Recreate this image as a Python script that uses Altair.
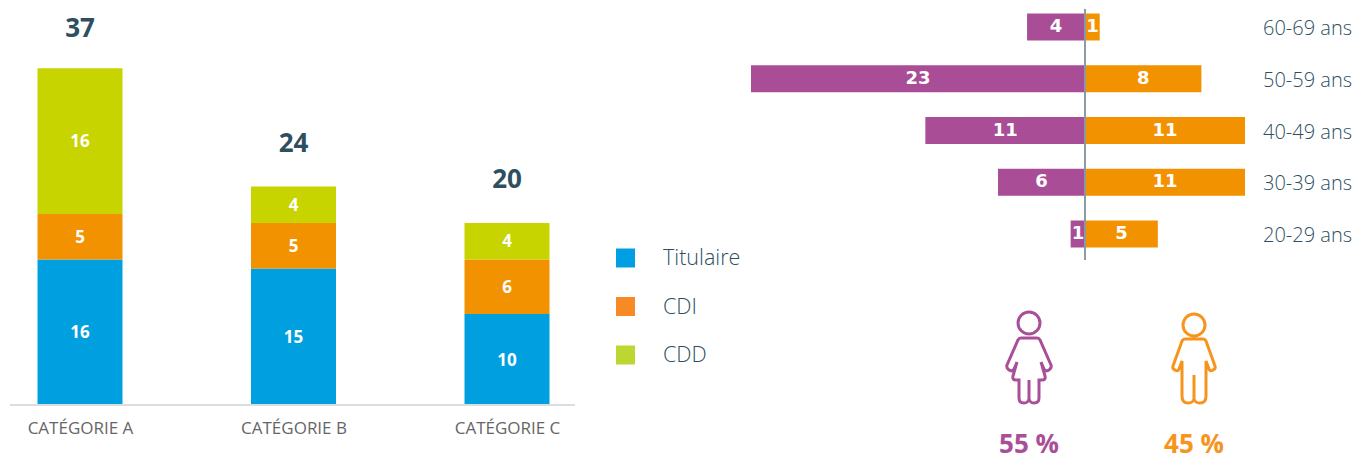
import altair as alt
import pandas as pd

categories = ["CATÉGORIE A", "CATÉGORIE B", "CATÉGORIE C"]
contracts = ["Titulaire", "CDI", "CDD"]
titulaire = [16, 15, 10]
cdi = [5, 5, 6]
cdd = [16, 4, 4]
totals = [37, 24, 20]
bar_colors = ["#009fdf", "#f39200", "#c8d400"]
legend_colors = ["#009fe3", "#f78a24", "#bdd632"]

ages = ["60-69 ans", "50-59 ans", "40-49 ans", "30-39 ans", "20-29 ans"]
women = [4, 23, 11, 6, 1]
men = [1, 8, 11, 11, 5]
genders = ["Femmes", "Hommes"]
gender_share = ["55 %", "45 %"]
gender_colors = ["#a94f97", "#f7941d"]

FEMALE = ("M-11,-35A11,11 0 1 0 11,-35A11,11 0 1 0 -11,-35Z"
          "M-8,-20L8,-20Q10,-20 11,-18L22,7Q23,10 20,12Q17,14 15,11L12,4L16,18Q17,22 13,22"
          "L10,22L10,40Q10,45 5,45Q1,45 0,41Q-1,45 -5,45Q-10,45 -10,40L-10,22L-13,22"
          "Q-17,22 -16,18L-12,4L-15,11Q-17,14 -20,12Q-23,10 -22,7L-11,-18Q-10,-20 -8,-20Z"
          "M0,22L0,41")
MALE = ("M-11,-33A11,11 0 1 0 11,-33A11,11 0 1 0 -11,-33Z"
        "M-9,-19L9,-19Q11,-19 12,-17L21,8Q22,11 19,12Q16,14 15,11L12,3L12,38"
        "Q12,45 6,45Q1,45 0,41Q-1,45 -6,45Q-12,45 -12,38L-12,3L-15,11Q-16,14 -19,12"
        "Q-22,11 -21,8L-12,-17Q-11,-19 -9,-19Z"
        "M0,17L0,41")

FONT = "Open Sans"
DARK = "#2e4f5f"

# ---------- left: stacked bars
rows = []
for i, c in enumerate(categories):
    base = 0
    for name, vals in zip(contracts, [titulaire, cdi, cdd]):
        v = vals[i]
        rows.append(dict(cat=c, contract=name, y0=base, y1=base + v, mid=base + v / 2, v=v))
        base += v
stack = pd.DataFrame(rows)
tot = pd.DataFrame(dict(cat=categories, total=totals))

cat_scale = alt.Scale(type="point", domain=categories, range=[72, 499], padding=0)
xs = alt.X("cat:N", sort=categories, scale=cat_scale,
           axis=alt.Axis(title=None, domain=False, ticks=False, labelAngle=0, labelFont=FONT,
                         labelFontSize=17, labelColor="#666666", labelPadding=15, grid=False))
ys = alt.Scale(domain=[0, 43.63], range=[397, 0])

bars = alt.Chart(stack).mark_bar(size=85).encode(
    x=xs,
    y=alt.Y("y0:Q", scale=ys, axis=None),
    y2="y1:Q",
    color=alt.Color("contract:N", scale=alt.Scale(domain=contracts, range=bar_colors), legend=None),
)
bar_lab = alt.Chart(stack).mark_text(font=FONT, fontWeight="bold", fontSize=17, color="white", dy=1).encode(
    x=alt.X("cat:N", sort=categories), y=alt.Y("mid:Q", scale=ys, axis=None), text="v:Q")
tot_style = dict(font=FONT, fontWeight="bold", fontSize=26, color=DARK)
tot_enc = dict(x=alt.X("cat:N", sort=categories), y=alt.Y("total:Q", scale=ys, axis=None), text="total:Q")
tot_first = alt.Chart(tot).transform_filter(alt.datum.total > 30).mark_text(dy=-39, **tot_style).encode(**tot_enc)
tot_rest = alt.Chart(tot).transform_filter(alt.datum.total <= 30).mark_text(dy=-43, **tot_style).encode(**tot_enc)
base_line = alt.Chart(tot).mark_rule(color="#dcdcdc", strokeWidth=1.5).encode(
    x=alt.value(2), x2=alt.value(567), y=alt.value(397))
left = alt.layer(bars, base_line, bar_lab, tot_first, tot_rest).properties(width=600, height=397)

# ---------- middle: legend
leg = pd.DataFrame(dict(contract=contracts))
leg_y = alt.Y("contract:N", sort=contracts, axis=None,
              scale=alt.Scale(type="point", domain=contracts, range=[250, 347], padding=0))
swatches = alt.Chart(leg).mark_point(shape="square", filled=True, opacity=1, size=361).encode(
    x=alt.value(17.5), y=leg_y,
    color=alt.Color("contract:N", scale=alt.Scale(domain=contracts, range=legend_colors), legend=None))
leg_text = alt.Chart(leg).mark_text(font=FONT, fontWeight=300, fontSize=21.5, color=DARK, align="left", dy=1).encode(
    x=alt.value(55), y=leg_y, text="contract:N")
middle = alt.layer(swatches, leg_text).properties(width=140, height=397)

# ---------- right: pyramid
pyr = pd.DataFrame(dict(age=ages, w=women, m=men))
pyr["w_neg"] = -pyr["w"]
pyr["w_mid"] = pyr["w_neg"] / 2
pyr["m_mid"] = pyr["m"] / 2
pyr["zero"] = 0

px = alt.Scale(domain=[-23, 11], range=[3, 497])
py = alt.Scale(type="point", domain=ages, range=[19, 226], padding=0)
Y = alt.Y("age:N", scale=py, axis=None, sort=ages)

w_bar = alt.Chart(pyr).mark_bar(height=27, color="#a84d96").encode(
    x=alt.X("w_neg:Q", scale=px, axis=None), x2="zero:Q", y=Y)
m_bar = alt.Chart(pyr).mark_bar(height=27, color="#f39200").encode(
    x=alt.X("m:Q", scale=px, axis=None), x2="zero:Q", y=Y)
lab_font = dict(font="DejaVu Sans", fontWeight="bold", fontSize=18, color="white")
w_lab = alt.Chart(pyr).mark_text(**lab_font).encode(
    x=alt.X("w_mid:Q", scale=px, axis=None), y=Y, text="w:Q")
m_lab = alt.Chart(pyr).mark_text(**lab_font).encode(
    x=alt.X("m_mid:Q", scale=px, axis=None), y=Y, text="m:Q")
axis_line = alt.Chart(pyr).mark_rule(color="#8b9aa6", strokeWidth=1.5).encode(
    x=alt.X("zero:Q", scale=px, axis=None), y=alt.value(1), y2=alt.value(252))
age_lab = alt.Chart(pyr).mark_text(font=FONT, fontWeight=300, fontSize=20, color=DARK, align="left", dy=2).encode(
    x=alt.value(515), y=Y, text="age:N")
pyramid = alt.layer(w_bar, m_bar, axis_line, w_lab, m_lab, age_lab)

g = pd.DataFrame(dict(genre=genders, share=gender_share))
gx = alt.X("genre:N", axis=None, scale=alt.Scale(type="point", domain=genders, range=[281, 446], padding=0))
gcolor = alt.Color("genre:N", scale=alt.Scale(domain=genders, range=gender_colors), legend=None)
icons = alt.Chart(g).mark_point(size=4, strokeWidth=3, filled=False, opacity=1).encode(
    x=gx, y=alt.value(350), color=gcolor,
    shape=alt.Shape("genre:N", scale=alt.Scale(domain=genders, range=[FEMALE, MALE]), legend=None))
share = alt.Chart(g).mark_text(font=FONT, fontWeight="bold", fontSize=26).encode(
    x=gx, y=alt.value(437), color=gcolor, text="share:N")
icon_part = alt.layer(icons, share)
right = alt.layer(pyramid, icon_part).resolve_scale(x="independent", y="independent", color="independent", shape="independent").properties(width=606, height=397)

chart = alt.hconcat(left, middle, right, spacing=0, bounds="flush").resolve_scale(
    x="independent", y="independent", color="independent"
).configure_view(stroke=None).properties(padding=0, background="white")

chart.save("out.html", embed_options={"renderer": "svg", "actions": False})
